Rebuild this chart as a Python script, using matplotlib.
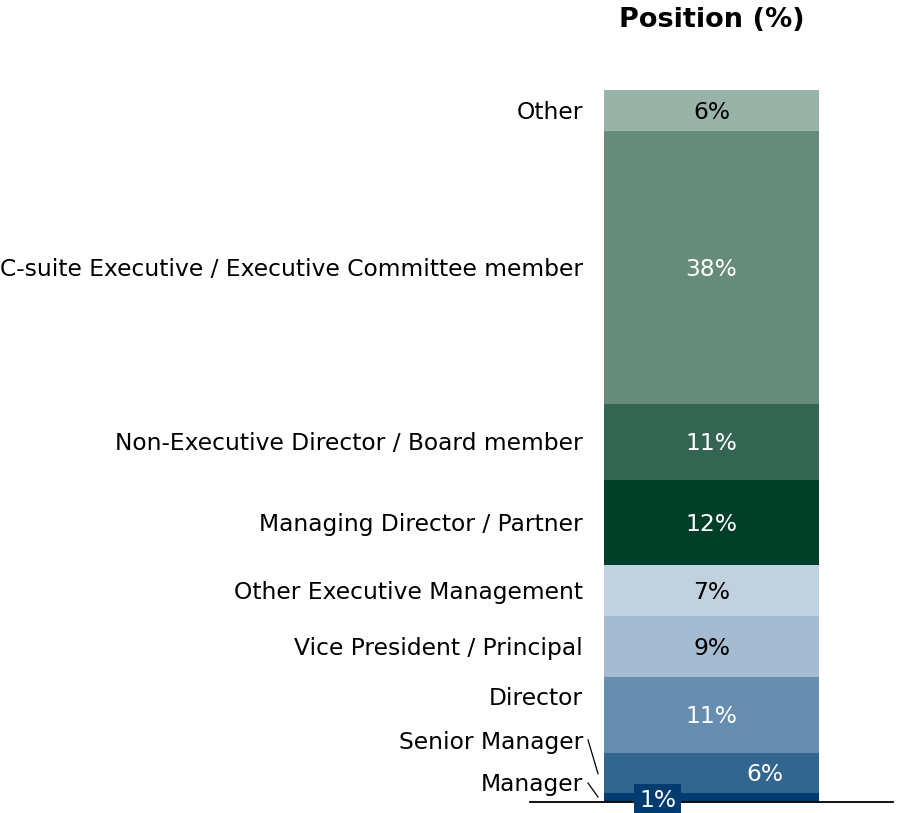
import numpy as np
import matplotlib.pyplot as plt

categories = ["Manager", "Senior Manager", "Director", "Vice President / Principal",
              "Other Executive Management", "Managing Director / Partner",
              "Non-Executive Director / Board member",
              "C-suite Executive / Executive Committee member", "Other"]
values = [1.26, 5.58, 10.72, 8.57, 7.16, 11.94, 10.67, 38.34, 5.76]
labels = ["1%", "6%", "11%", "9%", "7%", "12%", "11%", "38%", "6%"]
colors = ["#003c70", "#33668f", "#678eb1", "#a5bbd1", "#c1d1e0",
          "#003f27", "#336552", "#678b7b", "#9ab3a8"]
text_colors = ["white", "white", "white", "black", "black",
               "white", "white", "white", "black"]

plt.rcParams['font.family'] = ['DejaVu Sans']

fig = plt.figure(figsize=(8.97, 8.13), dpi=100)
ax = fig.add_axes([0, 0, 1, 1])
ax.axis("off")

total = sum(values)
px = 712 / total  # pixels per percent
ax.set_ylim(-11.5 / px, total + 90 / px)
ax.set_xlim(-0.5 - 604 / 215, 0.5 + 78 / 215)

bottoms = np.concatenate([[0], np.cumsum(values)[:-1]])
ax.bar(0, values, bottom=bottoms, width=1, color=colors, edgecolor="none")

# baseline
ax.plot([-0.5 - 74 / 215, 0.5 + 74 / 215], [0, 0], color="black", lw=1.3, clip_on=False)

fs = 16.8
dy = -2 / px  # small nudge so text sits like the original
lab_x = -0.5 - 21 / 215
for i, (cat, v, b) in enumerate(zip(categories, values, bottoms)):
    mid = b + v / 2
    if cat == "Manager":
        ax.text(-0.25, -3 / px + b + 0.5, labels[i], ha="center", va="center",
                color="white", fontsize=fs,
                bbox=dict(boxstyle="square,pad=0.22", fc=colors[i], ec="none"))
        ax.text(lab_x, mid + 14.5 / px + dy, cat, ha="right", va="center", fontsize=fs)
        ax.plot([-0.5 - 16 / 215, -0.5 - 6 / 215], [mid + 14 / px, mid], color="black", lw=0.9)
    elif cat == "Senior Manager":
        ax.text(0.25, mid + dy, labels[i], ha="center", va="center", color="white", fontsize=fs)
        ax.text(lab_x, b + v + 12 / px + dy, cat, ha="right", va="center", fontsize=fs)
        ax.plot([-0.5 - 16 / 215, -0.5 - 6 / 215], [b + v + 13 / px, mid - 1 / px],
                color="black", lw=0.9)
    elif cat == "Director":
        ax.text(0, mid + dy, labels[i], ha="center", va="center", color=text_colors[i], fontsize=fs)
        ax.text(lab_x, mid + 18 / px + dy, cat, ha="right", va="center", fontsize=fs)
    else:
        ax.text(0, mid + dy, labels[i], ha="center", va="center", color=text_colors[i], fontsize=fs)
        ax.text(lab_x, mid + dy, cat, ha="right", va="center", fontsize=fs)

ax.text(0, total + 90 / px - 20 / px, "Position (%)", ha="center", va="center",
        fontsize=19.5, fontweight="bold")

fig.savefig("out.png", dpi=100)
